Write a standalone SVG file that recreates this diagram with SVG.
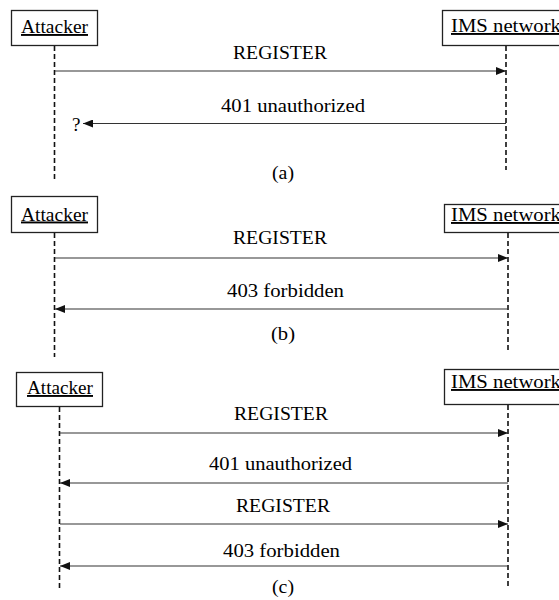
<svg xmlns="http://www.w3.org/2000/svg" width="559" height="600" viewBox="0 0 559 600">
  <style>
    .t { font-family: "Liberation Serif", "Times New Roman", serif; font-size: 19px; fill: #000; }
    .actor { text-decoration: underline; }
    .mid { text-anchor: middle; }
    .box { fill: #fff; stroke: #222; stroke-width: 1.3; }
    .life { stroke: #111; stroke-width: 1.6; stroke-dasharray: 5 3; fill: none; }
    .msg { stroke: #333; stroke-width: 1.2; fill: none; marker-end: url(#head); }
  </style>
  <defs>
    <marker id="head" viewBox="0 0 10 8" refX="10" refY="4" markerWidth="10" markerHeight="8" markerUnits="userSpaceOnUse" orient="auto">
      <path d="M0,0 L10,4 L0,8 Z" fill="#111"/>
    </marker>
  </defs>
  <rect width="559" height="600" fill="#fff"/>

  <!-- (a) REGISTER answered by 401, attacker stalls -->
  <g id="a-attacker">
    <rect class="box" x="11.5" y="10.5" width="86" height="35"/>
    <text class="t actor" font-family="Liberation Serif" x="21" y="33" textLength="67" lengthAdjust="spacingAndGlyphs">Attacker</text>
    <line class="life" x1="54.5" y1="46" x2="54.5" y2="180"/>
  </g>
  <g id="a-ims">
    <rect class="box" x="442.5" y="10.5" width="130" height="35"/>
    <text class="t actor" font-family="Liberation Serif" x="451" y="32" textLength="110" lengthAdjust="spacingAndGlyphs">IMS network</text>
    <line class="life" x1="506" y1="46" x2="506" y2="170"/>
  </g>

  <!-- (b) REGISTER answered by 403 -->
  <g id="b-attacker">
    <rect class="box" x="11.5" y="196.5" width="86" height="36"/>
    <text class="t actor" font-family="Liberation Serif" x="21" y="220.5" textLength="67" lengthAdjust="spacingAndGlyphs">Attacker</text>
    <line class="life" x1="54.5" y1="233" x2="54.5" y2="357"/>
  </g>
  <g id="b-ims">
    <rect class="box" x="444.5" y="204.5" width="130" height="28"/>
    <text class="t actor" font-family="Liberation Serif" x="451" y="221" textLength="110" lengthAdjust="spacingAndGlyphs">IMS network</text>
    <line class="life" x1="508" y1="233" x2="508" y2="353"/>
  </g>

  <!-- (c) 401 challenge, second REGISTER, then 403 -->
  <g id="c-attacker">
    <rect class="box" x="16.5" y="372.5" width="86" height="34"/>
    <text class="t actor" font-family="Liberation Serif" x="27" y="394" textLength="66" lengthAdjust="spacingAndGlyphs">Attacker</text>
    <line class="life" x1="59.5" y1="407" x2="59.5" y2="590"/>
  </g>
  <g id="c-ims">
    <rect class="box" x="444.5" y="369.5" width="130" height="35"/>
    <text class="t actor" font-family="Liberation Serif" x="451" y="388" textLength="110" lengthAdjust="spacingAndGlyphs">IMS network</text>
    <line class="life" x1="508" y1="405" x2="508" y2="587"/>
  </g>

  <g id="connectors">
    <line class="msg" x1="55" y1="71" x2="506" y2="71"/>
    <line class="msg" x1="506" y1="123.5" x2="83" y2="123.5"/>
    <line class="msg" x1="55" y1="258" x2="508" y2="258"/>
    <line class="msg" x1="508" y1="309" x2="55" y2="309"/>
    <line class="msg" x1="60" y1="433" x2="508" y2="433"/>
    <line class="msg" x1="508" y1="483" x2="60" y2="483"/>
    <line class="msg" x1="60" y1="524" x2="508" y2="524"/>
    <line class="msg" x1="508" y1="566" x2="60" y2="566"/>
  </g>

  <g id="labels" font-family="Liberation Serif">
    <text class="t mid" x="280" y="59" textLength="94" lengthAdjust="spacingAndGlyphs">REGISTER</text>
    <text class="t mid" x="293" y="111.5" textLength="144" lengthAdjust="spacingAndGlyphs">401 unauthorized</text>
    <text class="t" x="72" y="131">?</text>
    <text class="t mid" x="283" y="179" textLength="22" lengthAdjust="spacingAndGlyphs">(a)</text>

    <text class="t mid" x="280" y="244" textLength="94" lengthAdjust="spacingAndGlyphs">REGISTER</text>
    <text class="t mid" x="285.5" y="297" textLength="117" lengthAdjust="spacingAndGlyphs">403 forbidden</text>
    <text class="t mid" x="283" y="340" textLength="24" lengthAdjust="spacingAndGlyphs">(b)</text>

    <text class="t mid" x="281" y="420" textLength="94" lengthAdjust="spacingAndGlyphs">REGISTER</text>
    <text class="t mid" x="280.5" y="470" textLength="143" lengthAdjust="spacingAndGlyphs">401 unauthorized</text>
    <text class="t mid" x="283" y="511.5" textLength="94" lengthAdjust="spacingAndGlyphs">REGISTER</text>
    <text class="t mid" x="281.5" y="556.5" textLength="117" lengthAdjust="spacingAndGlyphs">403 forbidden</text>
    <text class="t mid" x="283" y="593" textLength="22" lengthAdjust="spacingAndGlyphs">(c)</text>
  </g>
</svg>
